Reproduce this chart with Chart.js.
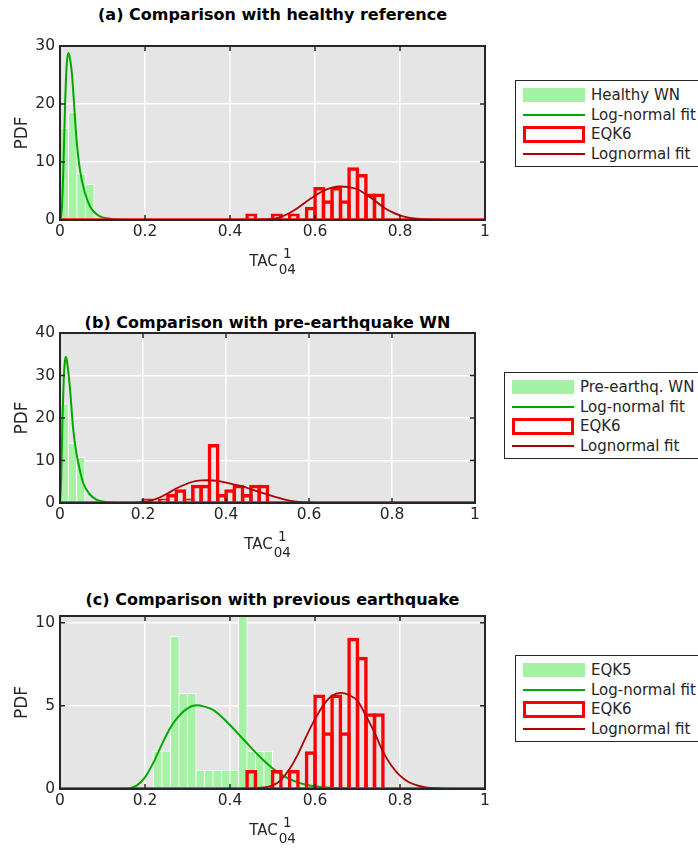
<!DOCTYPE html>
<html>
<head>
<meta charset="utf-8">
<script src="https://cdn.jsdelivr.net/npm/chart.js@4.4.1/dist/chart.umd.min.js"></script>
<style>
  body { margin: 0; background: #fff; font-family: "DejaVu Sans", sans-serif; color: #262626; }
  #page { position: relative; width: 698px; height: 850px; overflow: hidden; }
  canvas { position: absolute; left: 0; }
  .ptitle { position: absolute; left: 60px; height: 20px; line-height: 20px; text-align: center;
            font-weight: bold; font-size: 16px; color: #000; white-space: nowrap; }
  .xlab { position: absolute; font-size: 15px; line-height: 18px; white-space: nowrap; transform: translate(-50%, -50%); }
  .xlab .idx { display: inline-flex; flex-direction: column; vertical-align: middle; font-size: 13.5px;
               line-height: 16px; margin-left: 1px; text-align: center; }
  .legend { position: absolute; border: 1px solid #262626; background: #fff; width: 240px; padding: 4px 0 2px 0; }
  .legend .row { height: 19.8px; display: flex; align-items: center; font-size: 15px; white-space: nowrap; }
  .legend .key { width: 62px; margin-left: 7px; margin-right: 6px; box-sizing: border-box; flex: none; }
  .legend .key.patch { height: 14px; }
  .legend .key.line { height: 2px; }
  .legend .key.box { height: 17px; border: 3px solid; background: #fff; }
</style>
</head>
<body>
<div id="page"></div>
<script>
// ---- values ----
const BIN = 0.02;
const X_MIN = 0, X_MAX = 1;
const xTickValues = [0, 0.2, 0.4, 0.6, 0.8, 1];
const yTicksA = [0, 10, 20, 30];
const yTicksB = [0, 10, 20, 30, 40];
const yTicksC = [0, 5, 10];

// (a) healthy white-noise reference
const healthyBinStart = [0, 0.02, 0.04, 0.06, 0.08, 0.10];
const healthyPdf = [15.8, 18.6, 8.0, 6.2, 0.4, 0.4];
const healthyFitX = [0, 0.004, 0.008, 0.012, 0.016, 0.02, 0.024, 0.028, 0.032, 0.039, 0.047, 0.059, 0.071, 0.086, 0.1, 0.11, 0.13, 0.16, 0.2, 1];
const healthyFitY = [0, 1.5, 9, 20, 27, 28.8, 27.6, 25.3, 21.2, 13.8, 8.6, 4.6, 2.3, 1.0, 0.45, 0.3, 0.08, 0.01, 0, 0];

// EQK6, shared by (a) and (c)
const eqk6BinStart = [0.44, 0.46, 0.48, 0.50, 0.52, 0.54, 0.56, 0.58, 0.60, 0.62, 0.64, 0.66, 0.68, 0.70, 0.72, 0.74];
const eqk6Pdf = [1.14, 0, 0, 1.14, 0, 1.14, 0, 2.27, 5.68, 3.41, 5.68, 3.41, 9.09, 7.95, 4.55, 4.55];
const eqk6FitX = [0, 0.40, 0.44, 0.46, 0.48, 0.50, 0.52, 0.54, 0.56, 0.58, 0.60, 0.62, 0.64, 0.66, 0.68, 0.70, 0.72, 0.74, 0.76, 0.78, 0.80, 0.82, 0.84, 0.86, 0.88, 0.90, 0.95, 1];
const eqk6FitY = [0, 0, 0.02, 0.05, 0.1, 0.2, 0.55, 1.2, 2.1, 3.2, 4.2, 5.05, 5.6, 5.78, 5.65, 5.3, 4.4, 3.4, 2.25, 1.4, 0.8, 0.42, 0.22, 0.1, 0.05, 0.02, 0, 0];

// (b) pre-earthquake white noise
const preWnBinStart = [0, 0.02, 0.04, 0.06];
const preWnPdf = [23.4, 14.2, 10.8, 0.5];
const preWnFitX = [0, 0.003, 0.006, 0.009, 0.012, 0.0145, 0.018, 0.024, 0.032, 0.04, 0.044, 0.056, 0.072, 0.088, 0.1, 0.112, 0.13, 0.16, 1];
const preWnFitY = [0, 6, 20, 29, 33.5, 34.4, 32.5, 27, 17.2, 11.5, 9.4, 4.7, 2.0, 0.8, 0.4, 0.15, 0.04, 0, 0];

// EQK6 against the pre-earthquake reference
const eqk6PreBinStart = [0.20, 0.22, 0.24, 0.26, 0.28, 0.30, 0.32, 0.34, 0.36, 0.38, 0.40, 0.42, 0.44, 0.46, 0.48];
const eqk6PrePdf = [1.07, 0, 1.07, 2.14, 3.21, 1.07, 4.28, 4.28, 13.9, 2.14, 3.21, 4.28, 2.14, 4.28, 4.28];
const eqk6PreFitX = [0, 0.16, 0.18, 0.20, 0.22, 0.24, 0.26, 0.28, 0.30, 0.32, 0.34, 0.36, 0.38, 0.40, 0.42, 0.44, 0.46, 0.48, 0.50, 0.52, 0.54, 0.56, 0.58, 0.60, 0.62, 0.65, 0.70, 1];
const eqk6PreFitY = [0, 0, 0.05, 0.2, 0.6, 1.3, 2.3, 3.4, 4.3, 5.0, 5.3, 5.35, 5.2, 4.8, 4.35, 3.9, 3.25, 2.6, 2.0, 1.4, 0.85, 0.45, 0.2, 0.08, 0.03, 0.01, 0, 0];

// (c) previous earthquake EQK5
const eqk5BinStart = [0.22, 0.24, 0.26, 0.28, 0.30, 0.32, 0.34, 0.36, 0.38, 0.40, 0.42, 0.44, 0.46, 0.48];
const eqk5Pdf = [2.3, 2.3, 9.2, 5.75, 5.75, 1.15, 1.15, 1.15, 1.15, 1.15, 11.5, 2.3, 2.3, 2.3];
const eqk5FitX = [0, 0.14, 0.16, 0.18, 0.20, 0.22, 0.24, 0.26, 0.28, 0.30, 0.32, 0.34, 0.36, 0.38, 0.40, 0.42, 0.44, 0.46, 0.48, 0.50, 0.52, 0.54, 0.56, 0.58, 0.60, 0.62, 0.65, 0.70, 0.75, 1];
const eqk5FitY = [0, 0, 0.02, 0.2, 0.7, 1.6, 2.7, 3.7, 4.4, 4.85, 5.03, 4.95, 4.75, 4.35, 3.85, 3.3, 2.75, 2.2, 1.7, 1.25, 0.88, 0.6, 0.4, 0.26, 0.16, 0.1, 0.04, 0.01, 0, 0];

// ---- styling ----
const FONT = '"DejaVu Sans", sans-serif';
const GREEN_FILL = '#a5f1a5';
const GREEN_LINE = '#00a800';
const RED_EDGE = '#ff0000';
const DARK_RED = '#b00000';
const AXIS = '#262626';
const PLOT_LEFT = 60;
const CANVAS_W = 500, CANVAS_H = 250, X_AXIS_H = 60;

const panels = [
  { title: '(a) Comparison with healthy reference', canvasTop: 30, padTop: 16, plotRight: 485,
    yMax: 30, yTicks: yTicksA, refLabel: 'Healthy WN',
    ref: [healthyBinStart, healthyPdf], refFit: [healthyFitX, healthyFitY],
    eqk: [eqk6BinStart, eqk6Pdf], eqkFit: [eqk6FitX, eqk6FitY],
    legendLeft: 515, legendTop: 80, titleY: 15 },
  { title: '(b) Comparison with pre-earthquake WN', canvasTop: 313, padTop: 20, plotRight: 475,
    yMax: 40, yTicks: yTicksB, refLabel: 'Pre-earthq. WN',
    ref: [preWnBinStart, preWnPdf], refFit: [preWnFitX, preWnFitY],
    eqk: [eqk6PreBinStart, eqk6PrePdf], eqkFit: [eqk6PreFitX, eqk6PreFitY],
    legendLeft: 504, legendTop: 372, titleY: 323 },
  { title: '(c) Comparison with previous earthquake', canvasTop: 599, padTop: 17, plotRight: 485,
    yMax: 10.4, yTicks: yTicksC, refLabel: 'EQK5',
    ref: [eqk5BinStart, eqk5Pdf], refFit: [eqk5FitX, eqk5FitY],
    eqk: [eqk6BinStart, eqk6Pdf], eqkFit: [eqk6FitX, eqk6FitY],
    legendLeft: 515, legendTop: 655, titleY: 600 }
];

const bars = (starts, pdf) => starts.map((s, i) => ({ x: s + BIN / 2, y: pdf[i] }));
const curve = (xs, ys) => xs.map((x, i) => ({ x, y: ys[i] }));

// grey axes background, black box and inward ticks on all four sides
const framePlugin = {
  id: 'frame',
  beforeDraw(chart) {
    const { ctx, chartArea: a } = chart;
    ctx.save();
    ctx.fillStyle = '#e5e5e5';
    ctx.fillRect(a.left, a.top, a.right - a.left, a.bottom - a.top);
    ctx.restore();
  },
  afterDatasetsDraw(chart) {
    const { ctx, chartArea: a, scales: { x, y } } = chart;
    const len = 5;
    ctx.save();
    ctx.strokeStyle = AXIS;
    ctx.lineWidth = 1.5;
    ctx.beginPath();
    x.ticks.forEach(t => {
      const px = x.getPixelForValue(t.value);
      ctx.moveTo(px, a.bottom); ctx.lineTo(px, a.bottom - len);
      ctx.moveTo(px, a.top); ctx.lineTo(px, a.top + len);
    });
    y.ticks.forEach(t => {
      const py = y.getPixelForValue(t.value);
      ctx.moveTo(a.left, py); ctx.lineTo(a.left + len, py);
      ctx.moveTo(a.right, py); ctx.lineTo(a.right - len, py);
    });
    ctx.stroke();
    ctx.lineWidth = 2;
    ctx.strokeRect(a.left, a.top, a.right - a.left, a.bottom - a.top);
    ctx.restore();
  }
};

const page = document.getElementById('page');

panels.forEach(p => {
  const binPx = BIN * (p.plotRight - PLOT_LEFT);

  const title = document.createElement('div');
  title.className = 'ptitle';
  title.style.top = (p.titleY - 10) + 'px';
  title.style.width = (p.plotRight - PLOT_LEFT) + 'px';
  title.textContent = p.title;
  page.appendChild(title);

  const canvas = document.createElement('canvas');
  canvas.width = CANVAS_W; canvas.height = CANVAS_H;
  canvas.style.top = p.canvasTop + 'px';
  page.appendChild(canvas);

  const datasets = [
    { type: 'bar', label: p.refLabel, key: 'patch', data: bars(...p.ref),
      backgroundColor: GREEN_FILL, borderColor: '#ffffff', borderWidth: 1, borderSkipped: false,
      barThickness: binPx + 1, grouped: false, inflateAmount: 0, order: 5 },
    { type: 'line', label: 'Log-normal fit', key: 'line', data: curve(...p.refFit),
      borderColor: GREEN_LINE, borderWidth: 2, pointRadius: 0, cubicInterpolationMode: 'monotone', order: 4 },
    { type: 'line', label: '', key: null, data: [{ x: X_MIN, y: 0 }, { x: X_MAX, y: 0 }],
      borderColor: RED_EDGE, borderWidth: 3.5, pointRadius: 0, order: 3 },
    { type: 'bar', label: 'EQK6', key: 'box', data: bars(...p.eqk),
      backgroundColor: 'rgba(0,0,0,0)', borderColor: RED_EDGE, borderWidth: 3.5, borderSkipped: 'start',
      barThickness: binPx + 3.5, grouped: false, inflateAmount: 0, order: 2 },
    { type: 'line', label: 'Lognormal fit', key: 'line', data: curve(...p.eqkFit),
      borderColor: DARK_RED, borderWidth: 1.8, pointRadius: 0, cubicInterpolationMode: 'monotone', order: 1 }
  ];

  const tickFont = { family: FONT, size: 15.5 };
  const chart = new Chart(canvas, {
    type: 'bar',
    data: { datasets },
    options: {
      responsive: false, animation: false, devicePixelRatio: 1,
      layout: { padding: { left: 0, top: p.padTop, right: CANVAS_W - p.plotRight, bottom: 0 } },
      plugins: { legend: { display: false }, tooltip: { enabled: false } },
      scales: {
        x: {
          type: 'linear', min: X_MIN, max: X_MAX, offset: false,
          grid: { color: '#ffffff', lineWidth: 1.5, drawTicks: false, offset: false },
          border: { display: false },
          ticks: { font: tickFont, color: AXIS, padding: 3, maxRotation: 0, autoSkip: false, callback: v => String(v) },
          afterBuildTicks: s => { s.ticks = xTickValues.map(v => ({ value: v })); },
          afterFit: s => { s.height = X_AXIS_H; }
        },
        y: {
          type: 'linear', min: 0, max: p.yMax,
          grid: { color: '#ffffff', lineWidth: 1.5, drawTicks: false },
          border: { display: false },
          ticks: { font: tickFont, color: AXIS, padding: 5, callback: v => String(v) },
          title: { display: true, text: 'PDF', font: { family: FONT, size: 17 }, color: AXIS, padding: { top: 12, bottom: 0 } },
          afterBuildTicks: s => { s.ticks = p.yTicks.map(v => ({ value: v })); },
          afterFit: s => { s.width = PLOT_LEFT; }
        }
      }
    },
    plugins: [framePlugin]
  });

  // x-axis label with stacked super/subscript
  const a = chart.chartArea;
  const xl = document.createElement('div');
  xl.className = 'xlab';
  xl.style.left = ((a.left + a.right) / 2) + 'px';
  xl.style.top = (p.canvasTop + a.bottom + 41) + 'px';
  xl.innerHTML = 'TAC<span class="idx"><span>1</span><span>04</span></span>';
  page.appendChild(xl);

  // legend built from the chart's datasets
  const lg = document.createElement('div');
  lg.className = 'legend';
  lg.style.left = p.legendLeft + 'px';
  lg.style.top = p.legendTop + 'px';
  chart.data.datasets.filter(d => d.key).forEach(d => {
    const row = document.createElement('div');
    row.className = 'row';
    const key = document.createElement('span');
    key.className = 'key ' + d.key;
    if (d.key === 'patch') key.style.background = d.backgroundColor;
    if (d.key === 'line') key.style.background = d.borderColor;
    if (d.key === 'box') key.style.borderColor = d.borderColor;
    const txt = document.createElement('span');
    txt.textContent = d.label;
    row.appendChild(key); row.appendChild(txt);
    lg.appendChild(row);
  });
  page.appendChild(lg);
});
</script>
</body>
</html>
